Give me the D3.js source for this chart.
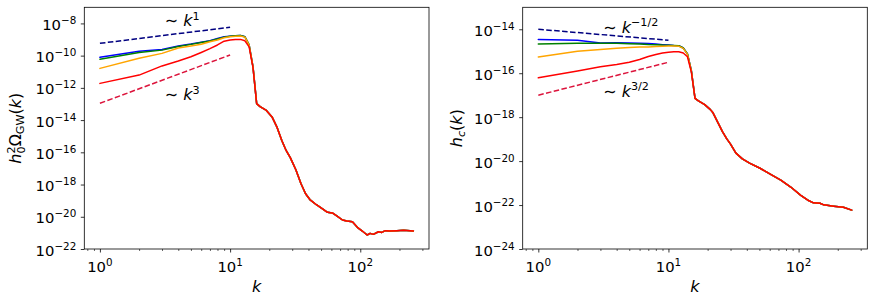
<!DOCTYPE html>
<html><head><meta charset="utf-8">
<script src="https://cdn.jsdelivr.net/npm/d3@7"></script>
<style>
html,body{margin:0;padding:0;background:#fff}
svg{display:block}
text{font-family:"DejaVu Sans",sans-serif;fill:#000}
</style>
</head><body>
<svg id="chart" width="874" height="302"></svg>
<script>
// ---------------- DATA ----------------
const kHead = [1,2,3,4,5,6,7,8,9,10,11,12,13,14,15];

// Left panel: h0^2 Omega_GW(k)
const omegaBlue   = [7.9e-11,1.9e-10,2.4e-10,4.0e-10,5.2e-10,6.8e-10,8.5e-10,1.15e-9,1.48e-9,1.62e-9,1.74e-9,1.78e-9,1.48e-9,4.6e-10,2.0e-11];
const omegaGreen  = [6.0e-11,1.58e-10,2.2e-10,3.7e-10,5.0e-10,6.5e-10,8.1e-10,1.10e-9,1.41e-9,1.58e-9,1.74e-9,1.78e-9,1.48e-9,4.6e-10,2.0e-11];
const omegaOrange = [1.62e-11,6.8e-11,1.38e-10,3.0e-10,4.0e-10,5.1e-10,7.2e-10,9.3e-10,1.29e-9,1.48e-9,1.62e-9,1.66e-9,1.41e-9,4.5e-10,2.0e-11];
const omegaRed    = [1.9e-12,6.2e-12,2.3e-11,4.6e-11,8.5e-11,1.58e-10,2.75e-10,4.6e-10,7.9e-10,9.3e-10,1.02e-9,1.02e-9,8.3e-10,3.5e-10,1.78e-11];
const kTailOmega  = [16,17,19,21,23,25,27,29,32,35,38,41,46,51,56,61,66,73,79,87,95,103,113,119,126,138,146,156,169,191,215,256];
const omegaTail   = [1.05e-13,6.8e-14,4.0e-14,1.58e-14,3.4e-15,5.2e-16,1.26e-16,4.7e-17,8.3e-18,1.17e-18,2.7e-19,1.17e-19,5.6e-20,3.16e-20,1.9e-20,1.74e-20,1.15e-20,6.3e-21,5.5e-21,4.9e-21,2.2e-21,1.35e-21,7.4e-22,9.3e-22,8.1e-22,1.17e-21,1.07e-21,1.38e-21,1.32e-21,1.38e-21,1.45e-21,1.32e-21];

// Right panel: h_c(k)
const hcBlue   = [3.4e-15,3.16e-15,2.4e-15,2.45e-15,2.4e-15,2.3e-15,2.24e-15,2.14e-15,2.0e-15,1.9e-15,1.82e-15,1.78e-15,1.41e-15,7.6e-16,1.32e-16];
const hcGreen  = [2.14e-15,2.3e-15,2.34e-15,2.3e-15,2.19e-15,2.14e-15,2.04e-15,2.0e-15,1.9e-15,1.86e-15,1.82e-15,1.78e-15,1.41e-15,7.6e-16,1.32e-16];
const hcOrange = [5.5e-16,1.0e-15,1.2e-15,1.38e-15,1.48e-15,1.55e-15,1.58e-15,1.66e-15,1.7e-15,1.74e-15,1.74e-15,1.7e-15,1.35e-15,7.4e-16,1.26e-16];
const hcRed    = [6.2e-17,1.26e-16,1.95e-16,2.5e-16,3.16e-16,4.2e-16,5.75e-16,7.1e-16,8.3e-16,9.1e-16,9.5e-16,9.5e-16,8.3e-16,5.6e-16,1.12e-16];
const kTailHc  = [16,17,19,21,22,24,26,28,30,33,37,42,51,61,73,87,104,117,130,146,156,186,221,256];
const hcTail   = [7.1e-18,5.5e-18,3.7e-18,2.2e-18,1.58e-18,5.6e-19,2.2e-19,1.05e-19,5.9e-20,2.3e-20,1.26e-20,8.1e-21,4.6e-21,2.5e-21,1.35e-21,6.6e-22,2.75e-22,1.7e-22,1.26e-22,1.2e-22,1.02e-22,8.9e-23,7.9e-23,5.9e-23];

// Power-law guides (dashed)
const guideK      = [1,10];
const guideOmegaK1  = [5.8e-10,5.8e-9];
const guideOmegaK3  = [1.1e-13,1.1e-10];
const guideHcKm12   = [1.0e-14,3.16e-15];
const guideHcK32    = [1.0e-17,3.16e-16];

const seriesColors = ["blue","green","orange","red"];
const kTicks = [1,10,100];
const kTickExp = ["0","1","2"];
const omegaTicks = [1e-22,1e-20,1e-18,1e-16,1e-14,1e-12,1e-10,1e-8];
const omegaTickExp = ["−22","−20","−18","−16","−14","−12","−10","−8"];
const hcTicks = [1e-24,1e-22,1e-20,1e-18,1e-16,1e-14];
const hcTickExp = ["−24","−22","−20","−18","−16","−14"];
const kMinor = [0.8,0.9,2,3,4,5,6,7,8,9,20,30,40,50,60,70,80,90,200,300];

// ---------------- DRAWING ----------------
const svg = d3.select("#chart");
const TOP = 7.3, BOTTOM = 249;
const FS = 14.8;
const LFS = 16;

function richText(parent, x, y, parts, anchor, size, transform){
  const t = parent.append("text").attr("text-anchor", anchor).attr("font-size", size);
  if (transform) t.attr("transform", transform); else t.attr("x", x).attr("y", y);
  let cur = 0;
  parts.forEach(p => {
    const off = -(p.shift || 0);
    const ts = t.append("tspan").text(p.t).attr("dy", off - cur);
    if (p.dx) ts.attr("dx", p.dx);
    if (p.italic) ts.attr("font-style", "italic");
    if (p.size) ts.attr("font-size", p.size);
    cur = off;
  });
  return t;
}

function panel(cfg){
  const g = svg.append("g");
  const x = d3.scaleLog().domain([Math.pow(10,-0.12), Math.pow(10,2.528)]).range([cfg.left, cfg.right]);
  const y = d3.scaleLog().domain(cfg.yDomain).range([BOTTOM, TOP]);
  const line = d3.line().x(d => x(d[0])).y(d => y(d[1]));

  cfg.guides.forEach(gd => {
    g.append("path").attr("d", line(d3.zip(guideK, gd.v)))
      .attr("fill","none").attr("stroke", gd.color).attr("stroke-width",1.5)
      .attr("stroke-dasharray","5.55,2.4");
  });
  cfg.series.forEach((s, i) => {
    const pts = d3.zip(kHead, s).concat(d3.zip(cfg.kTail, cfg.tail));
    g.append("path").attr("d", line(pts))
      .attr("fill","none").attr("stroke", seriesColors[i]).attr("stroke-width",1.5)
      .attr("stroke-linejoin","round").attr("stroke-linecap","round");
  });

  const xMaj = g.append("g").attr("transform",`translate(0,${BOTTOM})`)
    .call(d3.axisBottom(x).tickValues(kTicks).tickSize(3.5).tickFormat(""));
  const xMin = g.append("g").attr("transform",`translate(0,${BOTTOM})`)
    .call(d3.axisBottom(x).tickValues(kMinor).tickSize(2).tickFormat(""));
  const yMaj = g.append("g").attr("transform",`translate(${cfg.left},0)`)
    .call(d3.axisLeft(y).tickValues(cfg.yTicks).tickSize(3.5).tickFormat(""));
  [xMaj,xMin,yMaj].forEach(a => { a.select(".domain").remove(); a.selectAll("line").attr("stroke","#000").attr("stroke-width",0.8); });
  xMin.selectAll("line").attr("stroke-width",0.6);

  g.append("rect").attr("x",cfg.left).attr("y",TOP).attr("width",cfg.right-cfg.left).attr("height",BOTTOM-TOP)
    .attr("fill","none").attr("stroke","#000").attr("stroke-width",0.8);

  kTicks.forEach((k,i) => {
    richText(g, x(k), 271.5, [{t:"10"},{t:kTickExp[i], size:FS*0.7, shift:6}], "middle", FS);
  });
  cfg.yTicks.forEach((v,i) => {
    richText(g, cfg.left-8, y(v)+6.6, [{t:"10"},{t:cfg.yTickExp[i], size:FS*0.7, shift:6}], "end", FS);
  });

  richText(g, (cfg.left+cfg.right)/2, 291.5, [{t:"k", italic:true}], "middle", LFS);
  richText(g, 0, 0, cfg.ylabel, "middle", LFS, `translate(${cfg.ylabelX},${(TOP+BOTTOM)/2}) rotate(-90)`);

  cfg.notes.forEach(n => {
    const parts = [{t:"∼ "},{t:"k", italic:true},{t:n.exp, size:LFS*0.7, shift:6.5}];
    richText(g, x(n.k), y(n.v), parts, "start", LFS);
  });
}

panel({
  left: 84.3, right: 429, yDomain: [1e-22, 1e-7],
  yTicks: omegaTicks, yTickExp: omegaTickExp,
  series: [omegaBlue, omegaGreen, omegaOrange, omegaRed],
  kTail: kTailOmega, tail: omegaTail,
  guides: [{v: guideOmegaK1, color:"navy"},{v: guideOmegaK3, color:"crimson"}],
  ylabelX: 21,
  ylabel: [{t:"h", italic:true},{t:"2", size:11.2, shift:6.5},{t:"0", size:11.2, shift:-3.8, dx:-7.1},
           {t:"Ω"},{t:"GW", size:11.2, shift:-3.4},{t:"("},{t:"k", italic:true},{t:")"}],
  notes: [{k:3.15, v:6.8e-9, exp:"1"},{k:3.15, v:1.7e-13, exp:"3"}]
});

panel({
  left: 522.7, right: 867.3, yDomain: [1e-24, 1e-13],
  yTicks: hcTicks, yTickExp: hcTickExp,
  series: [hcBlue, hcGreen, hcOrange, hcRed],
  kTail: kTailHc, tail: hcTail,
  guides: [{v: guideHcKm12, color:"navy"},{v: guideHcK32, color:"crimson"}],
  ylabelX: 462,
  ylabel: [{t:"h", italic:true},{t:"c", size:11.2, shift:-3.4, italic:true},{t:"("},{t:"k", italic:true},{t:")"}],
  notes: [{k:3.15, v:7.1e-15, exp:"−1/2"},{k:3.15, v:8.3e-18, exp:"3/2"}]
});
</script>
</body></html>
